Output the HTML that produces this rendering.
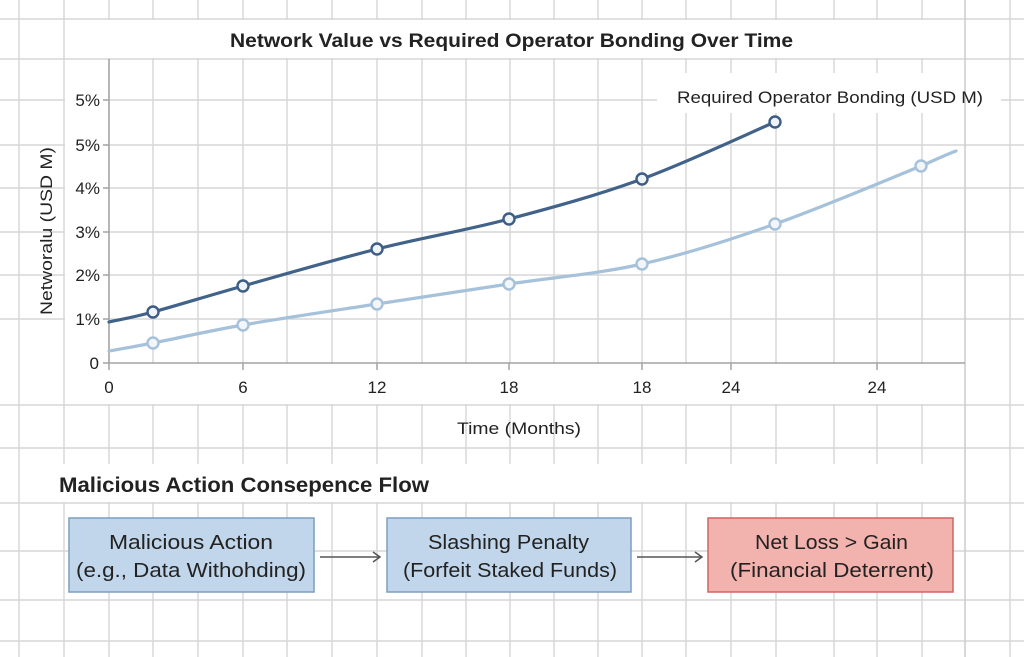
<!DOCTYPE html>
<html><head><meta charset="utf-8"><style>
html,body{margin:0;padding:0;background:#fff;}
svg{display:block;}
text{font-family:"Liberation Sans",Arial,sans-serif;fill:#222;}
</style></head><body>
<svg width="1024" height="657" viewBox="0 0 1024 657" xmlns="http://www.w3.org/2000/svg">
<rect width="1024" height="657" fill="#fff"/>
<g stroke="#d6d6d6" stroke-width="1.4">
<line x1="19" y1="0" x2="19" y2="657"/><line x1="64" y1="0" x2="64" y2="657"/><line x1="109" y1="0" x2="109" y2="657"/><line x1="153" y1="0" x2="153" y2="657"/><line x1="198" y1="0" x2="198" y2="657"/><line x1="243" y1="0" x2="243" y2="657"/><line x1="287" y1="0" x2="287" y2="657"/><line x1="332" y1="0" x2="332" y2="657"/><line x1="377" y1="0" x2="377" y2="657"/><line x1="422" y1="0" x2="422" y2="657"/><line x1="466" y1="0" x2="466" y2="657"/><line x1="510" y1="0" x2="510" y2="657"/><line x1="554" y1="0" x2="554" y2="657"/><line x1="598" y1="0" x2="598" y2="657"/><line x1="642" y1="0" x2="642" y2="657"/><line x1="686" y1="0" x2="686" y2="657"/><line x1="731" y1="0" x2="731" y2="657"/><line x1="776" y1="0" x2="776" y2="657"/><line x1="834" y1="0" x2="834" y2="657"/><line x1="877" y1="0" x2="877" y2="657"/><line x1="922" y1="0" x2="922" y2="657"/><line x1="1010" y1="0" x2="1010" y2="657"/>
<line x1="0" y1="19" x2="1024" y2="19"/><line x1="0" y1="59" x2="1024" y2="59"/><line x1="0" y1="100" x2="1024" y2="100"/><line x1="0" y1="145" x2="1024" y2="145"/><line x1="0" y1="188" x2="1024" y2="188"/><line x1="0" y1="232" x2="1024" y2="232"/><line x1="0" y1="275" x2="1024" y2="275"/><line x1="0" y1="319" x2="1024" y2="319"/><line x1="0" y1="405" x2="1024" y2="405"/><line x1="0" y1="448" x2="1024" y2="448"/><line x1="0" y1="503" x2="1024" y2="503"/><line x1="0" y1="551" x2="1024" y2="551"/><line x1="0" y1="600" x2="1024" y2="600"/><line x1="0" y1="641" x2="1024" y2="641"/>
</g>
<!-- white bands -->
<g fill="#fff">
<rect x="65" y="20" width="899" height="38"/>
<rect x="65" y="60" width="43" height="302"/>
<rect x="65" y="364" width="899" height="40"/>
<rect x="20" y="464" width="944" height="38"/>
<rect x="657" y="73" width="344" height="40"/>
</g>
<line x1="965" y1="0" x2="965" y2="657" stroke="#cfcfcf" stroke-width="1.6"/>
<!-- axes -->
<g stroke="#a3a3a3" stroke-width="1.5">
<line x1="109" y1="59" x2="109" y2="363"/>
<line x1="103" y1="363" x2="965" y2="363"/>
<line x1="103" y1="100" x2="109" y2="100"/><line x1="103" y1="145" x2="109" y2="145"/><line x1="103" y1="188" x2="109" y2="188"/><line x1="103" y1="232" x2="109" y2="232"/><line x1="103" y1="275" x2="109" y2="275"/><line x1="103" y1="319" x2="109" y2="319"/>
<line x1="109" y1="363" x2="109" y2="370"/><line x1="243" y1="363" x2="243" y2="370"/><line x1="377" y1="363" x2="377" y2="370"/><line x1="509" y1="363" x2="509" y2="370"/><line x1="642" y1="363" x2="642" y2="370"/><line x1="731" y1="363" x2="731" y2="370"/><line x1="877" y1="363" x2="877" y2="370"/>
</g>
<!-- title -->
<text x="230" y="47" font-size="19.5" font-weight="bold" textLength="563" lengthAdjust="spacingAndGlyphs" fill="#111">Network Value vs Required Operator Bonding Over Time</text>
<!-- legend -->
<text x="677" y="103" font-size="17" textLength="306" lengthAdjust="spacingAndGlyphs">Required Operator Bonding (USD M)</text>
<!-- y label -->
<text transform="translate(52,231) rotate(-90)" text-anchor="middle" font-size="17" textLength="168" lengthAdjust="spacingAndGlyphs">Networalu (USD M)</text>
<!-- y ticks -->
<g font-size="17" text-anchor="end">
<text x="100" y="106">5%</text><text x="100" y="151">5%</text><text x="100" y="194">4%</text><text x="100" y="238">3%</text><text x="100" y="281">2%</text><text x="100" y="325">1%</text><text x="99" y="369">0</text>
</g>
<!-- x ticks -->
<g font-size="17" text-anchor="middle">
<text x="109" y="393">0</text><text x="243" y="393">6</text><text x="377" y="393">12</text><text x="509" y="393">18</text><text x="642" y="393">18</text><text x="731" y="393">24</text><text x="877" y="393">24</text>
</g>
<text x="457" y="434" font-size="17" textLength="124" lengthAdjust="spacingAndGlyphs">Time (Months)</text>
<!-- series light -->
<path d="M109,351 C116.3,349.7 130.7,347.3 153,343 C175.3,338.7 205.7,331.5 243,325 C280.3,318.5 332.7,310.8 377,304 C421.3,297.2 464.8,290.7 509,284 C553.2,277.3 597.7,274 642,264 C686.3,254 728.5,240.3 775,224 C821.5,207.7 890.8,178.2 921,166 C935,160 945,155 956,151" fill="none" stroke="#a6c1da" stroke-width="3.2" stroke-linecap="round"/>
<g fill="#f2f6fa" stroke="#a6c1da" stroke-width="2.4">
<circle cx="153" cy="343" r="5.5"/><circle cx="243" cy="325" r="5.5"/><circle cx="377" cy="304" r="5.5"/><circle cx="509" cy="284" r="5.5"/><circle cx="642" cy="264" r="5.5"/><circle cx="775" cy="224" r="5.5"/><circle cx="921" cy="166" r="5.5"/>
</g>
<!-- series dark -->
<path d="M109,322 C116.3,320.3 130.7,318 153,312 C175.3,306 205.7,296.5 243,286 C280.3,275.5 332.7,260.2 377,249 C421.3,237.8 464.8,230.7 509,219 C553.2,207.3 597.7,195.2 642,179 C686.3,162.8 752.8,131.5 775,122" fill="none" stroke="#416289" stroke-width="3.2" stroke-linecap="round"/>
<g fill="#eef3f8" stroke="#3d5d84" stroke-width="2.4">
<circle cx="153" cy="312" r="5.5"/><circle cx="243" cy="286" r="5.5"/><circle cx="377" cy="249" r="5.5"/><circle cx="509" cy="219" r="5.5"/><circle cx="642" cy="179" r="5.5"/><circle cx="775" cy="122" r="5.5"/>
</g>
<!-- section title -->
<text x="59" y="492" font-size="21" font-weight="bold" textLength="370" lengthAdjust="spacingAndGlyphs" fill="#111">Malicious Action Consepence Flow</text>
<!-- boxes -->
<rect x="69" y="518" width="245" height="74" fill="#c1d6ea" stroke="#7d9dc1" stroke-width="1.5"/>
<rect x="387" y="518" width="244" height="74" fill="#c1d6ea" stroke="#7d9dc1" stroke-width="1.5"/>
<rect x="708" y="518" width="245" height="74" fill="#f2b2ad" stroke="#cd6661" stroke-width="1.5"/>
<g font-size="20">
<text x="109" y="549" textLength="164" lengthAdjust="spacingAndGlyphs">Malicious Action</text>
<text x="76" y="577" textLength="230" lengthAdjust="spacingAndGlyphs">(e.g., Data Withohding)</text>
<text x="428" y="549" textLength="161" lengthAdjust="spacingAndGlyphs">Slashing Penalty</text>
<text x="403" y="577" textLength="214" lengthAdjust="spacingAndGlyphs">(Forfeit Staked Funds)</text>
<text x="755" y="549" textLength="153" lengthAdjust="spacingAndGlyphs">Net Loss &gt; Gain</text>
<text x="730" y="577" textLength="204" lengthAdjust="spacingAndGlyphs">(Financial Deterrent)</text>
</g>
<!-- arrows -->
<g stroke="#555" stroke-width="1.5" fill="none">
<line x1="320" y1="557" x2="380" y2="557"/><polyline points="373,552 380,557 373,562"/>
<line x1="637" y1="557" x2="702" y2="557"/><polyline points="695,552 702,557 695,562"/>
</g>
</svg>
</body></html>
